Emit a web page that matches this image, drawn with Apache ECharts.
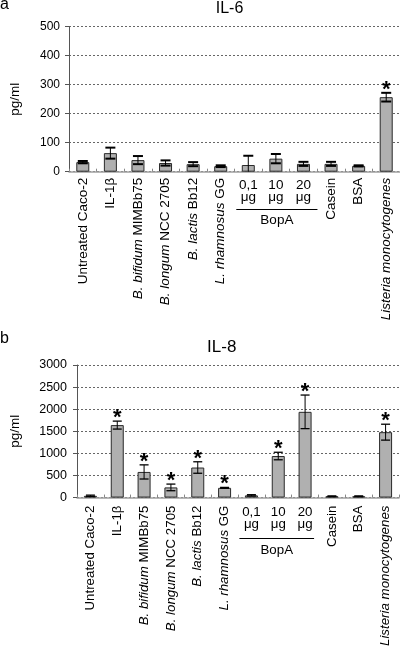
<!DOCTYPE html>
<html><head><meta charset="utf-8">
<script src="https://cdn.jsdelivr.net/npm/echarts@6/dist/echarts.min.js"></script>
<style>html,body{margin:0;padding:0;background:#fff}#c{width:400px;height:649px}</style>
</head><body><div id="c"></div>
<script>
// ---- data ----
const categories = ['Untreated Caco-2', 'IL-1β', 'B. bifidum MIMBb75', 'B. longum NCC 2705', 'B. lactis Bb12', 'L. rhamnosus GG', '0,1 μg', '10 μg', '20 μg', 'Casein', 'BSA', 'Listeria monocytogenes'];
const italicParts = ['', '', 'B. bifidum', 'B. longum', 'B. lactis', 'L. rhamnosus', '', '', '', '', '', 'Listeria monocytogenes'];
const doseIndices = [6, 7, 8];
const groupLabel = 'BopA';

const il6Title = 'IL-6';
const il6Mean = [33, 64, 40, 30, 26, 19, 23, 45, 27, 27, 20, 257];
const il6Err  = [4, 19, 14, 9, 7, 3, 32, 16, 7, 7, 2, 15];
const il6Star = [0, 0, 0, 0, 0, 0, 0, 0, 0, 0, 0, 1];
const il6Max = 500, il6Interval = 100;

const il8Title = 'IL-8';
const il8Mean = [40, 1640, 580, 230, 680, 220, 50, 940, 1940, 30, 30, 1480];
const il8Err  = [15, 90, 160, 75, 130, 10, 15, 85, 380, 8, 8, 180];
const il8Star = [0, 1, 1, 1, 1, 1, 0, 1, 1, 0, 0, 1];
const il8Max = 3000, il8Interval = 500;

const yName = 'pg/ml';
const panelLetters = ['a', 'b'];

// ---- chart ----
const FONT = '"Liberation Sans", Arial, sans-serif';
const chart = echarts.init(document.getElementById('c'), null, {renderer: 'canvas'});

function catFormatter(value, idx) {
  if (doseIndices.indexOf(idx) >= 0) return '';
  const it = italicParts[idx];
  if (it && value.indexOf(it) === 0) {
    const rest = value.slice(it.length);
    return '{i|' + it + '}' + (rest ? '{n|' + rest + '}' : '');
  }
  return '{n|' + value + '}';
}
function doseFormatter(value, idx) {
  if (doseIndices.indexOf(idx) < 0) return '';
  return value.replace(' ', '\n');
}
function mainX(grid, fs, margin) {
  return {
    type: 'category', gridIndex: grid, data: categories, position: 'bottom',
    axisLine: {show: true, lineStyle: {color: '#a0a0a0', width: 1.5}},
    axisTick: {show: true, inside: true, length: 3, lineStyle: {color: '#888'}},
    axisLabel: {
      interval: 0, rotate: 90, margin: margin, color: '#000', fontFamily: FONT, fontSize: fs,
      formatter: catFormatter,
      rich: {
        i: {fontStyle: 'italic', fontSize: fs, fontFamily: FONT, color: '#000'},
        n: {fontSize: fs, fontFamily: FONT, color: '#000'}
      }
    },
    splitLine: {show: false}
  };
}
function doseX(grid, fs, margin) {
  return {
    type: 'category', gridIndex: grid, data: categories, position: 'bottom',
    axisLine: {show: false}, axisTick: {show: false},
    axisLabel: {interval: 0, rotate: 0, margin: margin, color: '#000', fontFamily: FONT,
      fontSize: fs, lineHeight: 12, formatter: doseFormatter},
    splitLine: {show: false}
  };
}
function yAx(grid, max, interval, fs, margin, gap) {
  return {
    type: 'value', gridIndex: grid, min: 0, max: max, interval: interval,
    name: yName, nameLocation: 'middle', nameGap: gap, nameRotate: 90,
    nameTextStyle: {fontFamily: FONT, fontSize: 13.5, color: '#000'},
    axisLine: {show: true, lineStyle: {color: '#555', width: 1}},
    axisTick: {show: true, inside: false, length: 4, lineStyle: {color: '#555'}},
    axisLabel: {margin: margin, color: '#000', fontFamily: FONT, fontSize: fs,
      formatter: v => String(v)},
    splitLine: {show: true, lineStyle: {color: '#666', type: [2, 2], width: 1}}
  };
}
function makeErr(capW, capLW) {
  return function (params, api) {
    const i = api.value(0), m = api.value(1), e = api.value(2), s = api.value(3);
    const t = api.coord([i, m + e]);
    const lowV = m - e;
    const b = api.coord([i, Math.max(0, lowV)]);
    const x = t[0];
    const ch = [
      {type: 'line', shape: {x1: x, y1: t[1], x2: x, y2: b[1]}, style: {stroke: '#000', lineWidth: 1}},
      {type: 'line', shape: {x1: x - capW, y1: t[1], x2: x + capW, y2: t[1]}, style: {stroke: '#000', lineWidth: capLW}}
    ];
    if (lowV > 0) ch.push({type: 'line', shape: {x1: x - capW, y1: b[1], x2: x + capW, y2: b[1]}, style: {stroke: '#000', lineWidth: capLW}});
    if (s) ch.push({type: 'text', x: x, y: t[1] - 3, style: {text: '*', fontSize: 22, fontWeight: 'bold', fill: '#000', align: 'center', verticalAlign: 'middle', fontFamily: FONT}});
    return {type: 'group', children: ch};
  };
}
function barSeries(xi, yi, data) {
  return {type: 'bar', xAxisIndex: xi, yAxisIndex: yi, data: data, barWidth: 13,
    itemStyle: {color: '#b0b0b0', borderColor: '#2a2a2a', borderWidth: 1}, z: 2};
}
function errSeries(xi, yi, mean, err, star, capW, capLW) {
  return {type: 'custom', xAxisIndex: xi, yAxisIndex: yi, z: 5,
    data: categories.map((c, i) => [i, mean[i], err[i], star[i]]),
    encode: {x: 0, y: 1}, renderItem: makeErr(capW, capLW)};
}

chart.setOption({
  animation: false,
  grid: [
    {left: 49, top: 26.7, width: 351, height: 145},
    {left: 56, top: 365, width: 343, height: 134}
  ],
  xAxis: [mainX(0, 13.5, 6), doseX(0, 13.5, 8), mainX(1, 13.3, 8), doseX(1, 13.3, 9)],
  yAxis: [yAx(0, il6Max, il6Interval, 12, 9, 47), yAx(1, il8Max, il8Interval, 12.5, 10, 55)],
  series: [
    barSeries(0, 0, il6Mean), errSeries(0, 0, il6Mean, il6Err, il6Star, 5, 2),
    barSeries(2, 1, il8Mean), errSeries(2, 1, il8Mean, il8Err, il8Star, 4.5, 1.3)
  ]
});

// group bracket under dose labels, positioned from the axes
function px(axisIdx, cat) { return chart.convertToPixel({xAxisIndex: axisIdx}, cat); }
const aL = px(0, categories[doseIndices[0]]) - 12, aR = px(0, categories[doseIndices[2]]) + 14;
const bL = px(2, categories[doseIndices[0]]) - 12, bR = px(2, categories[doseIndices[2]]) + 9;
const txt = (t, x, y, fs) => ({type: 'text', x: x, y: y,
  style: {text: t, fontSize: fs, fontFamily: FONT, fill: '#000', align: 'center', verticalAlign: 'middle'}});
chart.setOption({
  graphic: [
    {type: 'text', x: 0, y: 5, style: {text: panelLetters[0], fontSize: 16, fontFamily: FONT, fill: '#000', align: 'left', verticalAlign: 'middle'}},
    {type: 'text', x: 0, y: 339, style: {text: panelLetters[1], fontSize: 16, fontFamily: FONT, fill: '#000', align: 'left', verticalAlign: 'middle'}},
    txt(il6Title, 229.5, 8.5, 16),
    txt(il8Title, 221.7, 347.5, 17),
    {type: 'line', shape: {x1: aL, y1: 209.5, x2: aR, y2: 209.5}, style: {stroke: '#000', lineWidth: 1}},
    txt(groupLabel, (aL + aR) / 2, 220.5, 13.5),
    {type: 'line', shape: {x1: bL, y1: 538.5, x2: bR, y2: 538.5}, style: {stroke: '#000', lineWidth: 1}},
    txt(groupLabel, (bL + bR) / 2, 550.5, 13.3)
  ]
});
</script></body></html>
